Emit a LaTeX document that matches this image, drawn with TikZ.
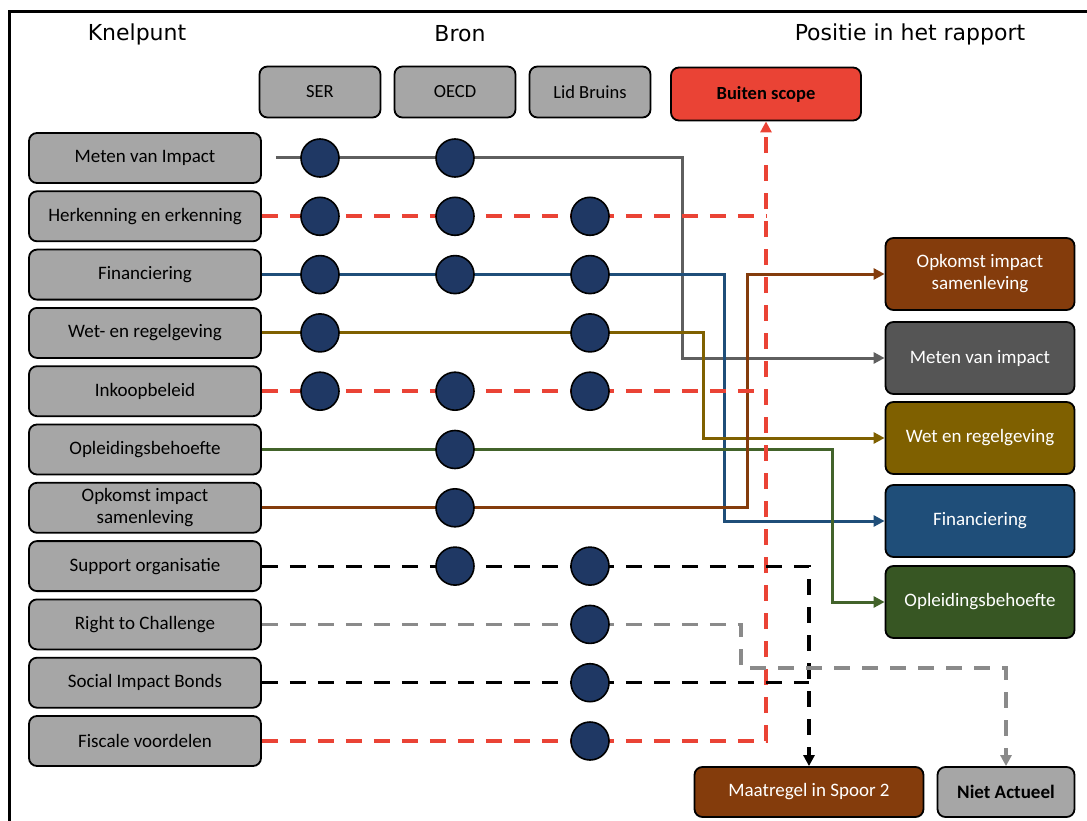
\documentclass[tikz,border=0pt]{standalone}
\usepackage{fontspec}
\setmainfont{Carlito}
\newfontfamily\headfont{DejaVu Sans}
\usetikzlibrary{arrows.meta,positioning,calc}
\definecolor{boxgray}{HTML}{A6A6A6}
\definecolor{navy}{HTML}{1F3864}
\definecolor{scopered}{HTML}{EA4335}
\definecolor{opkbrown}{HTML}{843C0C}
\definecolor{metengray}{HTML}{555555}
\definecolor{linegray}{HTML}{5F5F5F}
\definecolor{wetolive}{HTML}{7F6000}
\definecolor{finblue}{HTML}{1F4E79}
\definecolor{oplgreen}{HTML}{375623}
\definecolor{linegreen}{HTML}{42632A}
\definecolor{dashgray}{HTML}{8A8A8A}

\begin{document}
\begin{tikzpicture}[x=1pt,y=-1pt,
    box/.style={draw=black,line width=1.8pt,rounded corners=8pt,align=center,
      inner sep=0pt,minimum height=50pt,font=\fontsize{19}{22}\selectfont},
    knel/.style={box,fill=boxgray,minimum width=232pt},
    bron/.style={box,fill=boxgray,minimum width=121pt,minimum height=51pt,
      font=\fontsize{18.5}{21}\selectfont},
    posbox/.style={box,text=white,minimum width=189pt,minimum height=72pt},
    head/.style={font=\headfont\fontsize{22}{26}\selectfont},
    dot/.style={circle,draw=black,line width=1.6pt,fill=navy,minimum size=38pt,inner sep=0pt},
    link/.style={line width=3pt},
    tip/.style={-{Triangle[length=11pt,width=11pt]}},
    reddash/.style={line width=3.6pt,scopered,dash pattern=on 16pt off 12pt},
    blackdash/.style={line width=3.2pt,black,dash pattern=on 16pt off 12pt},
    graydash/.style={line width=3.2pt,dashgray,dash pattern=on 16pt off 12pt}]
  \useasboundingbox (0,0) rectangle (1087,821);
  % frame
  \draw[line width=3pt] (9,821) -- (9,12) -- (1087,12);
  % headers
  \node[head] (hknel) at (137,34) {Knelpunt};
  \node[head] (hbron) at (460,34) {Bron};
  \node[head] (hpos) at (910,34) {Positie in het rapport};
  % sources
  \node[bron] (ser) at (320,92) {SER};
  \node[bron] (oecd) at (455,92) {OECD};
  \node[bron] (lid) at (590,92) {Lid Bruins};
  \node[box,fill=scopered,minimum width=190pt,minimum height=53pt,
    font=\bfseries\fontsize{18.5}{21}\selectfont] (buiten) at (766,94) {Buiten scope};
  % knelpunten
  \foreach \r/\t in {1/Meten van Impact,2/Herkenning en erkenning,3/Financiering,
      4/Wet- en regelgeving,5/Inkoopbeleid,6/Opleidingsbehoefte,
      7/{Opkomst impact\\samenleving},8/Support organisatie,9/Right to Challenge,
      10/Social Impact Bonds,11/Fiscale voordelen}{
    \node[knel] (k\r) at (145,{158+58.3*(\r-1)}) {\t};
  }
  % positie in het rapport
  \node[posbox,fill=opkbrown] (r1) at (980,274) {Opkomst impact\\samenleving};
  \node[posbox,fill=metengray] (r2) at (980,358) {Meten van impact};
  \node[posbox,fill=wetolive] (r3) at (980,438) {Wet en regelgeving};
  \node[posbox,fill=finblue] (r4) at (980,521) {Financiering};
  \node[posbox,fill=oplgreen] (r5) at (980,602) {Opleidingsbehoefte};
  \node[box,fill=opkbrown,text=white,minimum width=229pt] (maatregel) at (809,792) {Maatregel in Spoor 2};
  \node[box,fill=boxgray,minimum width=137pt,font=\bfseries\fontsize{19}{22}\selectfont]
    (niet) at (1006,792) {Niet Actueel};
  % vertical tracks
  \coordinate (tgray) at (682,0);
  \coordinate (tolive) at (703,0);
  \coordinate (tblue) at (724,0);
  \coordinate (tbrown) at (747,0);
  \coordinate (tgreen) at (832,0);
  \coordinate (tbend) at (741,668);
  % connectors
  \draw[link,linegray,tip] ([xshift=14pt]k1.east) -- (k1.east -| tgray) |- (r2.west);
  \draw[link,finblue,tip] (k3.east) -- (k3.east -| tblue) |- (r4.west);
  \draw[link,wetolive,tip] (k4.east) -- (k4.east -| tolive) |- (r3.west);
  \draw[link,linegreen,tip] (k6.east) -- (k6.east -| tgreen) |- (r5.west);
  \draw[link,opkbrown,tip] (k7.east) -- (k7.east -| tbrown) |- (r1.west);
  \draw[reddash] (k2.east) -- (k2.east -| buiten.south);
  \draw[reddash] (k5.east) -- (k5.east -| buiten.south);
  \draw[reddash,tip] (k11.east) -| (buiten.south);
  \draw[blackdash,tip] (k8.east) -| (maatregel.north);
  \draw[blackdash] (k10.east) -- (k10.east -| maatregel.north);
  \draw[graydash,tip] (k9.east) -| (tbend) -| (niet.north);
  % bron dots
  \foreach \r/\s in {1/ser,1/oecd,2/ser,2/oecd,2/lid,3/ser,3/oecd,3/lid,4/ser,4/lid,
      5/ser,5/oecd,5/lid,6/oecd,7/oecd,8/oecd,8/lid,9/lid,10/lid,11/lid}{
    \node[dot] (d\r\s) at (\s |- k\r) {};
  }
\end{tikzpicture}
\end{document}
